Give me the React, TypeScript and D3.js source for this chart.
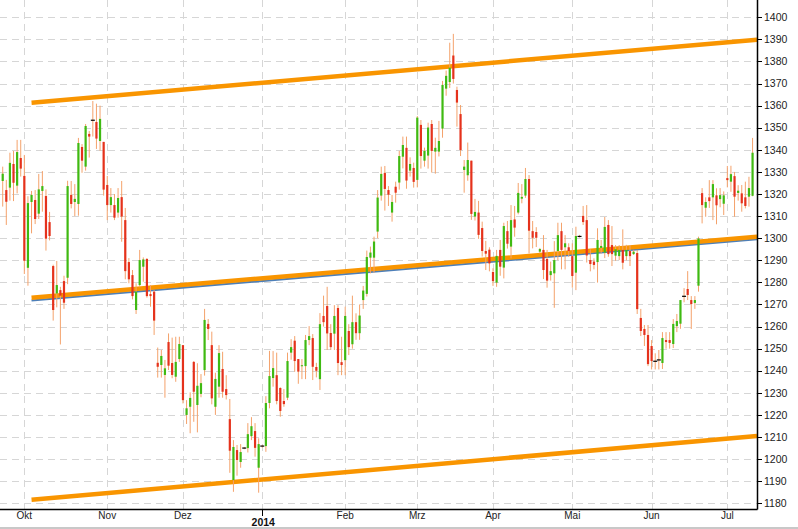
import React from 'react';
import * as d3 from 'd3';

// ---- Data (daily OHLC, weekdays 23 Sep 2013 – 10 Jul 2014) ----
const firstDay = '2013-09-23';
const lastDay = '2014-07-10';

const open = [
  1325.9, 1321.8, 1322.9, 1333.6, 1323.8, 1336.3, 1328.2, 1286.6, 1316.4, 1317.3,
  1311.1, 1321.4, 1319.1, 1307.3, 1287.4, 1275.0, 1276.5, 1280.6, 1282.1, 1319.6,
  1316.4, 1315.5, 1341.3, 1332.4, 1347.2, 1353.4, 1352.6, 1344.0, 1343.6, 1324.1,
  1315.0, 1315.0, 1311.6, 1318.6, 1308.2, 1289.2, 1283.3, 1267.5, 1278.8, 1287.1,
  1290.6, 1274.7, 1275.8, 1243.6, 1242.6, 1238.1, 1253.0, 1243.5, 1237.3, 1245.3,
  1251.6, 1220.0, 1223.7, 1244.0, 1224.5, 1229.5, 1240.3, 1261.2, 1251.6, 1223.7,
  1232.8, 1240.8, 1231.7, 1218.1, 1190.5, 1204.1, 1198.7, 1205.0, 1205.0, 1210.4,
  1212.7, 1196.1, 1205.9, 1205.9, 1225.4, 1236.7, 1238.0, 1232.2, 1226.3, 1227.8,
  1248.2, 1253.6, 1245.3, 1242.1, 1242.1, 1253.9, 1254.8, 1241.7, 1236.2, 1264.8,
  1269.3, 1257.1, 1256.8, 1268.4, 1243.9, 1244.8, 1258.0, 1252.0, 1262.0, 1257.0,
  1272.0, 1274.8, 1291.2, 1291.2, 1303.0, 1319.3, 1329.5, 1321.8, 1311.6, 1323.3,
  1325.2, 1336.9, 1340.9, 1330.6, 1331.8, 1326.4, 1351.3, 1335.1, 1337.4, 1351.7,
  1339.2, 1339.2, 1349.6, 1367.7, 1370.7, 1382.7, 1367.1, 1356.2, 1330.9, 1328.5,
  1335.1, 1309.8, 1311.6, 1304.6, 1294.2, 1294.8, 1284.7, 1279.9, 1294.7, 1286.7,
  1303.2, 1296.2, 1308.5, 1311.6, 1317.9, 1319.3, 1326.8, 1303.2, 1302.8, 1293.9,
  1294.7, 1290.6, 1283.3, 1284.1, 1294.2, 1303.2, 1295.9, 1295.9, 1291.9, 1284.4,
  1300.8, 1310.1, 1308.2, 1290.1, 1289.4, 1289.2, 1295.6, 1293.4, 1306.0, 1296.9,
  1292.1, 1291.9, 1294.7, 1291.9, 1294.2, 1292.8, 1293.3, 1263.9, 1258.9, 1256.2,
  1251.2, 1244.3, 1244.9, 1243.5, 1253.9, 1253.9, 1252.1, 1260.2, 1261.3, 1273.7,
  1277.0, 1272.0, 1270.7, 1278.5, 1320.4, 1313.8, 1318.5, 1318.5, 1319.4, 1317.7,
  1315.6, 1327.2, 1325.6, 1328.1, 1320.5, 1320.3, 1318.5, 1318.8, 1319.2,
];
const high = [
  1332.4, 1326.4, 1338.7, 1339.5, 1344.5, 1344.5, 1337.7, 1319.0, 1321.4, 1321.8,
  1329.1, 1330.4, 1322.1, 1311.9, 1288.0, 1289.7, 1278.0, 1283.0, 1326.0, 1325.9,
  1324.5, 1345.4, 1342.6, 1351.7, 1348.5, 1362.1, 1360.9, 1360.0, 1343.6, 1328.2,
  1322.7, 1320.0, 1322.7, 1325.9, 1313.7, 1291.0, 1285.6, 1279.6, 1294.7, 1291.3,
  1291.0, 1278.8, 1276.5, 1250.5, 1249.4, 1244.9, 1256.9, 1255.0, 1255.4, 1255.4,
  1251.6, 1226.7, 1230.2, 1244.4, 1243.4, 1238.5, 1268.0, 1263.4, 1257.7, 1239.1,
  1251.6, 1248.6, 1238.0, 1227.2, 1208.6, 1206.4, 1206.8, 1205.5, 1216.3, 1219.0,
  1216.3, 1209.4, 1206.4, 1228.5, 1249.0, 1248.9, 1248.2, 1232.5, 1231.7, 1248.2,
  1254.3, 1255.7, 1245.3, 1245.3, 1256.2, 1260.2, 1256.6, 1243.6, 1266.1, 1274.0,
  1278.0, 1261.1, 1269.7, 1269.7, 1255.4, 1269.0, 1261.1, 1274.0, 1266.0, 1270.0,
  1278.4, 1294.4, 1296.2, 1300.7, 1321.8, 1332.4, 1332.7, 1323.6, 1319.6, 1325.6,
  1339.5, 1346.0, 1346.0, 1336.6, 1334.2, 1355.3, 1353.5, 1341.0, 1352.3, 1353.5,
  1345.5, 1353.1, 1371.2, 1375.9, 1388.5, 1392.5, 1368.6, 1360.3, 1335.4, 1343.3,
  1335.1, 1317.8, 1316.9, 1307.5, 1298.8, 1295.9, 1286.4, 1294.7, 1299.2, 1307.0,
  1307.8, 1315.0, 1314.6, 1325.0, 1324.5, 1331.8, 1328.6, 1307.8, 1305.0, 1295.6,
  1301.4, 1294.7, 1289.4, 1298.7, 1307.0, 1307.0, 1301.4, 1297.7, 1297.7, 1305.2,
  1301.5, 1314.6, 1315.0, 1295.0, 1290.9, 1304.5, 1299.2, 1309.6, 1308.2, 1305.5,
  1296.9, 1296.9, 1304.0, 1297.0, 1296.9, 1294.7, 1294.7, 1268.0, 1260.7, 1260.7,
  1253.9, 1247.9, 1249.4, 1257.5, 1257.5, 1257.5, 1263.4, 1265.7, 1272.0, 1277.4,
  1285.1, 1273.8, 1273.8, 1300.7, 1322.7, 1318.5, 1326.3, 1326.3, 1322.6, 1322.7,
  1321.2, 1332.7, 1332.8, 1330.0, 1324.0, 1324.1, 1325.6, 1327.8, 1345.4,
];
const low = [
  1314.3, 1306.0, 1317.0, 1316.8, 1320.3, 1327.9, 1283.8, 1278.5, 1302.2, 1306.4,
  1308.7, 1312.0, 1294.4, 1299.0, 1262.7, 1268.7, 1251.9, 1268.0, 1279.2, 1313.5,
  1310.0, 1310.2, 1329.6, 1330.6, 1336.5, 1346.0, 1340.4, 1339.6, 1319.3, 1308.2,
  1311.6, 1308.2, 1309.3, 1298.4, 1281.4, 1279.6, 1272.3, 1265.7, 1277.8, 1280.3,
  1273.1, 1269.0, 1256.2, 1236.9, 1236.9, 1227.8, 1240.3, 1236.6, 1235.0, 1244.0,
  1225.2, 1215.9, 1211.7, 1216.9, 1212.1, 1228.0, 1237.8, 1253.9, 1224.8, 1220.0,
  1227.8, 1227.8, 1227.0, 1193.8, 1185.2, 1192.5, 1196.1, 1204.5, 1203.0, 1208.6,
  1201.1, 1184.8, 1205.2, 1203.3, 1223.0, 1232.8, 1224.8, 1219.2, 1223.7, 1226.7,
  1245.0, 1239.6, 1234.1, 1236.2, 1236.2, 1251.6, 1235.8, 1237.0, 1231.3, 1260.0,
  1249.4, 1249.4, 1249.4, 1238.0, 1238.0, 1238.0, 1247.1, 1250.0, 1254.0, 1254.0,
  1268.0, 1273.6, 1284.1, 1284.4, 1300.0, 1317.0, 1312.5, 1314.6, 1307.5, 1316.1,
  1322.0, 1331.6, 1322.4, 1327.9, 1322.9, 1323.0, 1331.5, 1332.4, 1331.5, 1329.7,
  1329.2, 1337.0, 1345.5, 1364.5, 1368.0, 1370.0, 1350.5, 1337.2, 1320.6, 1326.0,
  1308.3, 1308.0, 1299.7, 1291.7, 1285.6, 1285.0, 1278.4, 1278.0, 1283.0, 1281.8,
  1295.3, 1290.9, 1300.7, 1310.8, 1315.8, 1318.3, 1293.1, 1295.4, 1296.0, 1293.1,
  1281.5, 1277.6, 1280.8, 1268.5, 1290.1, 1285.9, 1285.9, 1291.6, 1277.6, 1276.5,
  1300.3, 1306.0, 1289.0, 1285.0, 1285.9, 1279.9, 1293.0, 1291.0, 1291.6, 1287.4,
  1289.8, 1290.1, 1285.9, 1290.0, 1287.4, 1292.4, 1265.7, 1255.7, 1251.2, 1242.1,
  1240.6, 1240.6, 1240.6, 1240.8, 1250.0, 1250.0, 1250.3, 1257.5, 1259.0, 1271.0,
  1272.0, 1258.9, 1268.0, 1275.8, 1306.7, 1309.7, 1313.7, 1308.2, 1306.3, 1314.0,
  1310.5, 1323.0, 1321.0, 1309.7, 1317.0, 1312.0, 1313.5, 1314.3, 1319.0,
];
const close = [
  1329.2, 1316.5, 1334.1, 1325.1, 1339.0, 1331.5, 1289.8, 1315.9, 1319.6, 1308.7,
  1322.1, 1323.6, 1299.8, 1301.0, 1267.5, 1278.8, 1274.0, 1270.8, 1323.6, 1315.5,
  1317.8, 1343.1, 1335.1, 1350.8, 1346.0, 1353.4, 1345.1, 1354.0, 1322.0, 1315.0,
  1318.6, 1309.3, 1318.2, 1309.8, 1285.1, 1281.4, 1273.8, 1275.8, 1290.1, 1290.4,
  1273.8, 1273.8, 1262.7, 1241.8, 1246.7, 1241.1, 1242.3, 1238.1, 1244.0, 1252.1,
  1226.7, 1223.0, 1227.7, 1230.5, 1233.2, 1234.4, 1263.0, 1258.9, 1227.5, 1236.3,
  1248.0, 1230.5, 1229.0, 1203.8, 1205.5, 1199.6, 1203.2, 1205.0, 1211.3, 1214.9,
  1205.1, 1206.8, 1205.9, 1225.4, 1237.6, 1241.2, 1226.3, 1221.8, 1224.9, 1244.4,
  1250.7, 1244.4, 1239.6, 1242.5, 1253.9, 1255.7, 1241.8, 1240.0, 1261.1, 1262.0,
  1256.9, 1250.7, 1264.8, 1243.5, 1242.6, 1264.8, 1250.7, 1262.0, 1257.0, 1265.0,
  1276.3, 1291.5, 1293.5, 1298.5, 1318.4, 1329.1, 1322.3, 1319.7, 1316.4, 1320.6,
  1337.2, 1342.2, 1326.1, 1333.6, 1325.5, 1354.6, 1337.2, 1339.5, 1350.1, 1339.5,
  1340.9, 1344.0, 1369.4, 1373.5, 1377.2, 1372.1, 1361.4, 1339.9, 1332.4, 1335.4,
  1311.0, 1311.9, 1301.5, 1294.2, 1293.0, 1288.6, 1280.6, 1292.0, 1287.1, 1305.5,
  1297.5, 1308.2, 1304.8, 1320.5, 1318.7, 1326.8, 1303.4, 1300.2, 1300.2, 1295.1,
  1285.6, 1280.8, 1285.1, 1290.1, 1301.4, 1294.7, 1297.7, 1294.2, 1282.9, 1301.0,
  1300.8, 1307.3, 1292.2, 1288.3, 1287.9, 1299.2, 1296.5, 1305.1, 1292.8, 1292.8,
  1295.0, 1294.7, 1288.9, 1294.7, 1291.9, 1293.9, 1267.9, 1258.0, 1256.2, 1243.0,
  1244.4, 1244.3, 1244.9, 1254.8, 1253.0, 1252.6, 1261.2, 1262.5, 1272.0, 1273.7,
  1274.3, 1270.2, 1272.0, 1299.9, 1315.0, 1316.4, 1316.8, 1324.5, 1314.9, 1319.5,
  1319.4, 1326.3, 1329.0, 1318.8, 1321.5, 1315.8, 1314.6, 1322.7, 1338.7,
];

const monthNames = ['Okt', 'Nov', 'Dez', '', 'Feb', 'Mrz', 'Apr', 'Mai', 'Jun', 'Jul'];
const yearLabel = '2014';
const yTicks = d3.range(1180, 1401, 10);

// trend channel: values at the first and last anchor day (index 8 and 208)
const channelAnchors = [8, 208];
const upperChannel = [1361.3, 1389.7];
const middleChannel = [1273.1, 1300.5];
const middleChannelBlue = [1272.5, 1300.0];
const lowerChannel = [1181.6, 1210.3];

function buildDates(): Date[] {
  const out: Date[] = [];
  const d = new Date(firstDay + 'T12:00:00');
  const end = new Date(lastDay + 'T12:00:00');
  while (d <= end) {
    const wd = d.getDay();
    if (wd !== 0 && wd !== 6) out.push(new Date(d));
    d.setDate(d.getDate() + 1);
  }
  return out;
}

const W = 798;
const H = 529;
const plotRight = 757;
const plotBottom = 509;

export default function App() {
  const dates = buildDates();
  const n = dates.length;
  const x = d3.scaleLinear().domain([-0.75, n + 0.23]).range([0, plotRight]);
  const y = d3.scaleLinear().domain([1180, 1400]).range([503.3, 17.3]);

  const monthStarts: number[] = [];
  for (let i = 1; i < n; i++) {
    if (dates[i].getMonth() !== dates[i - 1].getMonth()) monthStarts.push(i);
  }

  const xEnd = x.domain()[1];
  const channelPath = (vals: number[]) => {
    const [i0, i1] = channelAnchors;
    const slope = (vals[1] - vals[0]) / (i1 - i0);
    const pts: [number, number][] = [
      [x(i0), y(vals[0])],
      [x(xEnd), y(vals[0] + slope * (xEnd - i0))],
    ];
    return d3.line()(pts) || '';
  };

  const grid = '#d6d6d6';
  const font = 'Liberation Sans, Arial, sans-serif';
  const bodyW = 2.2;

  return (
    <svg
      width={W}
      height={H}
      style={{ position: 'absolute', left: 0, top: 0, background: '#fff' }}
      fontFamily={font}
    >
      <rect x={0} y={0} width={W} height={H} fill="#fff" />
      {/* horizontal grid */}
      {yTicks.map((t) => (
        <line
          key={'hg' + t}
          x1={0}
          x2={plotRight}
          y1={Math.round(y(t)) + 0.5}
          y2={Math.round(y(t)) + 0.5}
          stroke={grid}
          strokeWidth={1}
          strokeDasharray="7,5"
        />
      ))}
      {/* vertical grid */}
      {monthStarts.map((i) => (
        <line
          key={'vg' + i}
          x1={Math.round(x(i)) + 0.5}
          x2={Math.round(x(i)) + 0.5}
          y1={0}
          y2={plotBottom}
          stroke={grid}
          strokeWidth={1}
          strokeDasharray="7,5"
        />
      ))}
      {/* channel lines */}
      <path d={channelPath(middleChannelBlue)} stroke="#4d7fb8" strokeWidth={2} fill="none" transform="translate(0,1.5)" />
      {[upperChannel, middleChannel, lowerChannel].map((c, k) => (
        <path key={'ch' + k} d={channelPath(c)} stroke="#f99500" strokeWidth={4.5} fill="none" />
      ))}
      {/* candles */}
      {dates.map((_, i) => {
        const cx = x(i);
        const o = open[i];
        const c = close[i];
        const hi = high[i];
        const lo = low[i];
        const doji = Math.abs(o - c) < 0.3;
        const up = c > o;
        const top = y(Math.max(o, c));
        const bot = y(Math.min(o, c));
        return (
          <g key={'c' + i}>
            <line x1={cx} x2={cx} y1={y(hi)} y2={y(lo)} stroke="#f4a26b" strokeWidth={1} />
            {doji ? (
              <line x1={cx - 2} x2={cx + 2} y1={y(o)} y2={y(o)} stroke="#000" strokeWidth={1.2} />
            ) : (
              <rect
                x={cx - bodyW / 2}
                y={top}
                width={bodyW}
                height={Math.max(1, bot - top)}
                fill={up ? '#3fba12' : '#e5321c'}
              />
            )}
          </g>
        );
      })}
      {/* axes */}
      <line x1={plotRight + 0.5} x2={plotRight + 0.5} y1={0} y2={plotBottom + 0.5} stroke="#000" strokeWidth={1.5} />
      <line x1={0} x2={plotRight + 0.5} y1={plotBottom + 0.5} y2={plotBottom + 0.5} stroke="#000" strokeWidth={1.5} />
      {yTicks.map((t) => (
        <g key={'yt' + t}>
          <line x1={plotRight} x2={plotRight + 5} y1={Math.round(y(t)) + 0.5} y2={Math.round(y(t)) + 0.5} stroke="#000" />
          <text x={plotRight + 7} y={y(t)} dy="0.35em" fontSize={10.5} fill="#222">
            {t}
          </text>
        </g>
      ))}
      {monthStarts.map((i, k) =>
        monthNames[k] ? (
          <text key={'mt' + i} x={x(i)} y={518.7} textAnchor="middle" fontSize={10} fill="#222">
            {monthNames[k]}
          </text>
        ) : (
          <g key={'mt' + i}>
            <line x1={Math.round(x(i)) + 0.5} x2={Math.round(x(i)) + 0.5} y1={plotBottom} y2={516} stroke="#000" />
            <text x={x(i) + 1} y={525.5} textAnchor="middle" fontSize={10.5} fontWeight="bold" fill="#111">
              {yearLabel}
            </text>
          </g>
        )
      )}
      <line x1={0} x2={W} y1={528} y2={528} stroke="#c8c8c8" strokeWidth={2} />
    </svg>
  );
}
